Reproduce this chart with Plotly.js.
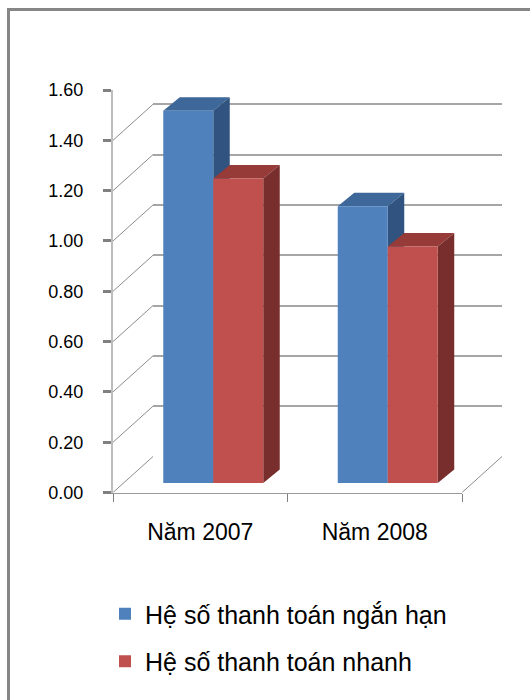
<!DOCTYPE html>
<html>
<head>
<meta charset="utf-8">
<script src="https://cdn.plot.ly/plotly-3.0.1.min.js"></script>
<style>html,body{margin:0;padding:0;background:#fff;}#chart{width:530px;height:700px;}</style>
</head>
<body>
<div id="chart"></div>
<script>
// ---- data ----
const categories = ["Năm 2007", "Năm 2008"];
const seriesNames = ["Hệ số thanh toán ngắn hạn", "Hệ số thanh toán nhanh"];
const shortTermRatio = [1.48, 1.10];
const quickRatio = [1.21, 0.94];
const yTickVals = [0, 0.2, 0.4, 0.6, 0.8, 1.0, 1.2, 1.4, 1.6];
const yTickText = ["0.00", "0.20", "0.40", "0.60", "0.80", "1.00", "1.20", "1.40", "1.60"];

// ---- geometry (pixels) ----
const W = 530, H = 700;
const frontLeft = 113, frontRight = 462, frontBottom = 492.5, frontTop = 90;
const wallDx = 40, wallDy = 36;          // back wall offset
const barDx = 13, barDy = 9.5;           // bar front face offset
const depthDx = 16.5, depthDy = 13.5;    // bar depth
const yMax = 1.6;
const bargap = 0.427;

const px = v => v / W;
const py = v => (H - v) / H;

const colors = {
  blue: "#4F81BD", blueTop: "#3D6899", blueSide: "#30547F",
  red: "#C0504D", redTop: "#963B38", redSide: "#782E2C"
};

const xIdx = categories.map((c, i) => i);

const traces = [
  { type: "scatter", x: categories, y: categories.map(() => null), mode: "markers",
    xaxis: "x", yaxis: "y", showlegend: false, hoverinfo: "skip" },
  { type: "scatter", x: [], y: [], xaxis: "x2", yaxis: "y2", showlegend: false, hoverinfo: "skip" },
  { type: "bar", name: seriesNames[0], x: xIdx, y: shortTermRatio, xaxis: "x3", yaxis: "y3",
    marker: { color: colors.blue, line: { width: 0 } }, legendgroup: "a" },
  { type: "bar", name: seriesNames[1], x: xIdx, y: quickRatio, xaxis: "x3", yaxis: "y3",
    marker: { color: colors.red, line: { width: 0 } }, legendgroup: "b" }
];

// pixel -> data unit conversions for the bar subplot
const kx = (frontRight - frontLeft) / categories.length;   // px per category unit
const ky = (frontBottom - frontTop) / yMax;                // px per value unit
const ddx = depthDx / kx, ddy = depthDy / ky;
const w = (1 - bargap) / 2;

function face(pts, fill) {
  const d = "M" + pts.map(p => p[0] + "," + p[1]).join(" L") + " Z";
  return { type: "path", xref: "x3", yref: "y3", path: d, fillcolor: fill,
           line: { width: 0 }, layer: "between" };
}

const shapes = [];
// diagonal lines from front ticks to back wall
yTickVals.forEach(v => {
  shapes.push({ type: "line", xref: "x domain", yref: "y", xsizemode: "pixel", ysizemode: "pixel",
    xanchor: 0, yanchor: v, x0: 0, y0: 0, x1: wallDx, y1: wallDy,
    line: { color: "#8C8C8C", width: 1 }, layer: "below" });
});
// floor right diagonal
shapes.push({ type: "line", xref: "x domain", yref: "y", xsizemode: "pixel", ysizemode: "pixel",
  xanchor: 1, yanchor: 0, x0: 0, y0: 0, x1: wallDx, y1: wallDy,
  line: { color: "#8C8C8C", width: 1 }, layer: "below" });

// 3D faces of bars
xIdx.forEach(i => {
  const vb = shortTermRatio[i], vr = quickRatio[i];
  // blue
  shapes.push(face([[i - w, vb], [i - w + ddx, vb + ddy], [i + ddx, vb + ddy], [i, vb]], colors.blueTop));
  shapes.push(face([[i, 0], [i + ddx, ddy], [i + ddx, vb + ddy], [i, vb]], colors.blueSide));
  // red
  shapes.push(face([[i, vr], [i + ddx, vr + ddy], [i + w + ddx, vr + ddy], [i + w, vr]], colors.redTop));
  shapes.push(face([[i + w, 0], [i + w + ddx, ddy], [i + w + ddx, vr + ddy], [i + w, vr]], colors.redSide));
});

// outer border
shapes.push({ type: "rect", xref: "paper", yref: "paper", x0: px(8.5), y0: py(9.5), x1: 1.05, y1: -0.05,
  line: { color: "#868686", width: 3 }, fillcolor: "rgba(0,0,0,0)", layer: "above" });

const font = "'Liberation Sans', Arial, sans-serif";

const layout = {
  width: W, height: H,
  margin: { l: 0, r: 0, t: 0, b: 0 },
  paper_bgcolor: "#fff", plot_bgcolor: "rgba(0,0,0,0)",
  font: { family: font, color: "#000" },
  showlegend: true,
  barmode: "group", bargap: bargap, bargroupgap: 0,
  xaxis: {
    domain: [px(frontLeft), px(frontRight)], anchor: "y",
    type: "category", categoryorder: "array", categoryarray: categories, range: [-0.5, 1.5],
    showline: true, linecolor: "#9A9A9A", linewidth: 1,
    ticks: "outside", tickson: "boundaries", ticklen: 8, tickwidth: 1, tickcolor: "#808080",
    showgrid: false, zeroline: false, fixedrange: true,
    tickfont: { size: 23, family: font, color: "#000" }, ticklabelstandoff: 19
  },
  yaxis: {
    domain: [py(frontBottom), py(frontTop)], anchor: "x", range: [0, yMax],
    tickmode: "array", tickvals: yTickVals, ticktext: yTickText,
    showline: true, linecolor: "#BDBDBD", linewidth: 2,
    ticks: "outside", ticklen: 8, tickwidth: 3, tickcolor: "#808080",
    showgrid: false, zeroline: false, fixedrange: true,
    tickfont: { size: 18, family: font, color: "#000" }, ticklabelstandoff: 16
  },
  xaxis2: {
    domain: [px(frontLeft + wallDx), px(frontRight + wallDx)], anchor: "y2", range: [0, 1],
    showgrid: false, zeroline: false, showticklabels: false, ticks: "", showline: false, fixedrange: true
  },
  yaxis2: {
    domain: [py(frontBottom - wallDy), py(frontTop - wallDy)], anchor: "x2", range: [0, yMax],
    tickmode: "array", tickvals: yTickVals,
    showgrid: true, gridcolor: "#A6A6A6", gridwidth: 2,
    zeroline: false, showticklabels: false, ticks: "", showline: false, fixedrange: true
  },
  xaxis3: {
    domain: [px(frontLeft + barDx), px(frontRight + barDx)], anchor: "y3", range: [-0.5, 1.5],
    visible: false, fixedrange: true
  },
  yaxis3: {
    domain: [py(frontBottom - barDy), py(frontTop - barDy)], anchor: "x3", range: [0, yMax],
    visible: false, fixedrange: true
  },
  legend: {
    x: px(105), y: py(591), xanchor: "left", yanchor: "top", orientation: "v",
    font: { size: 25, family: font, color: "#000" }, tracegroupgap: 12,
    bgcolor: "rgba(0,0,0,0)"
  },
  shapes: shapes
};

Plotly.newPlot("chart", traces, layout, { displayModeBar: false, staticPlot: true });
</script>
</body>
</html>
